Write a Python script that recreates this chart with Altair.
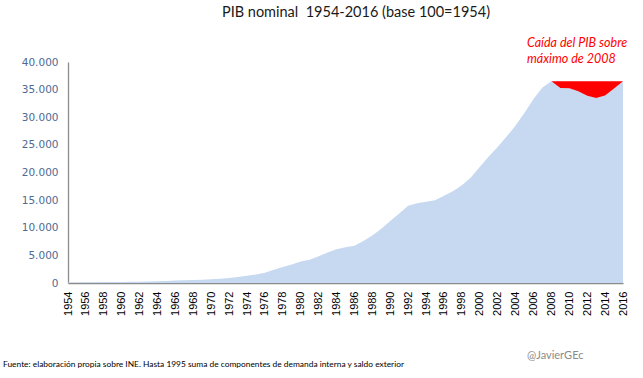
import altair as alt
import pandas as pd

years = list(range(1954, 2017))
values = [100, 112, 128, 148, 170, 180, 190, 212, 245, 285,
          325, 380, 440, 490, 540, 610, 680, 770, 900, 1080,
          1320, 1560, 1870, 2380, 2880, 3350, 3900, 4200, 4850, 5500,
          6100, 6450, 6750, 7600, 8600, 9800, 11200, 12600, 14000, 14450,
          14700, 15000, 15800, 16600, 17700, 19100, 21000, 22900, 24600, 26500,
          28500, 30800, 33300, 35400, 36500, 35300, 35250, 34700, 33900, 33500,
          33950, 35200, 36500]
tick_years = list(range(1954, 2017, 2))
y_ticks = list(range(0, 40001, 5000))

df = pd.DataFrame({"year": years, "value": values})
peak_year = 2008
peak = df.loc[df.year == peak_year, "value"].iloc[0]
drop = df[df.year >= peak_year].copy()
drop["peak"] = peak

W, H = 555, 221
FONT = "Lato"

x_scale = alt.Scale(domain=[1954, 2016], nice=False, zero=False)
y_scale = alt.Scale(domain=[0, 40000], nice=False)

x_axis = alt.Axis(values=tick_years, format="d", labelAngle=-90,
                  labelFont="Liberation Sans", labelFontSize=11,
                  labelColor="#000000", labelPadding=8,
                  ticks=False, domainColor="#8C8C8C", domainWidth=1.3,
                  grid=False, labelOverlap=False, labelFlush=False)
y_axis = alt.Axis(values=y_ticks,
                  labelExpr="replace(format(datum.value, ',d'), ',', '.')",
                  labelFont="DejaVu Sans", labelFontSize=10.5,
                  labelColor="#4E6A94", labelPadding=10,
                  ticks=False, domainColor="#8C8C8C", domainWidth=1.3,
                  grid=False, labelOverlap=False)

base_area = alt.Chart(df).mark_area(color="#C6D9F0", opacity=1).encode(
    x=alt.X("year:Q", scale=x_scale, title=None, axis=x_axis),
    y=alt.Y("value:Q", scale=y_scale, title=None, axis=y_axis),
)

red_area = alt.Chart(drop).mark_area(color="#FF0000", opacity=1).encode(
    x=alt.X("year:Q", scale=x_scale, title=None, axis=x_axis),
    y=alt.Y("value:Q", scale=y_scale, title=None, axis=y_axis),
    y2="peak:Q",
)

title = alt.Chart(pd.DataFrame({"t": ["PIB nominal\u00a0\u00a01954-2016 (base 100=1954)"]})).mark_text(
    font=FONT, fontSize=14.5, color="#1A1A1A", align="center", baseline="middle"
).encode(x=alt.value(288), y=alt.value(-49), text="t:N")

note = alt.Chart(pd.DataFrame({"t": [["Caída del PIB sobre", "máximo de 2008"]]})).mark_text(
    font=FONT, fontSize=12.5, fontStyle="italic", color="#FF0000", align="left",
    baseline="middle", lineHeight=16
).encode(x=alt.value(459), y=alt.value(-19), text="t")

footer = alt.Chart(pd.DataFrame({"t": ["Fuente: elaboración propia sobre INE. Hasta 1995 suma de componentes de demanda interna y saldo exterior"]})).mark_text(
    font=FONT, fontSize=8.4, color="#000000", align="left", baseline="middle"
).encode(x=alt.value(-65), y=alt.value(302), text="t:N")

handle = alt.Chart(pd.DataFrame({"t": ["@JavierGEc"]})).mark_text(
    font=FONT, fontSize=11, color="#8C8C8C", align="left", baseline="middle"
).encode(x=alt.value(459), y=alt.value(294), text="t:N")

chart = alt.layer(base_area, red_area, title, note, footer, handle).properties(
    width=W, height=H,
    autosize=alt.AutoSizeParams(type="none"),
    padding={"left": 68, "top": 62, "right": 20, "bottom": 95},
    background="#FFFFFF",
).configure_view(stroke=None)

chart.save("out.html", embed_options={"renderer": "svg", "actions": False})
